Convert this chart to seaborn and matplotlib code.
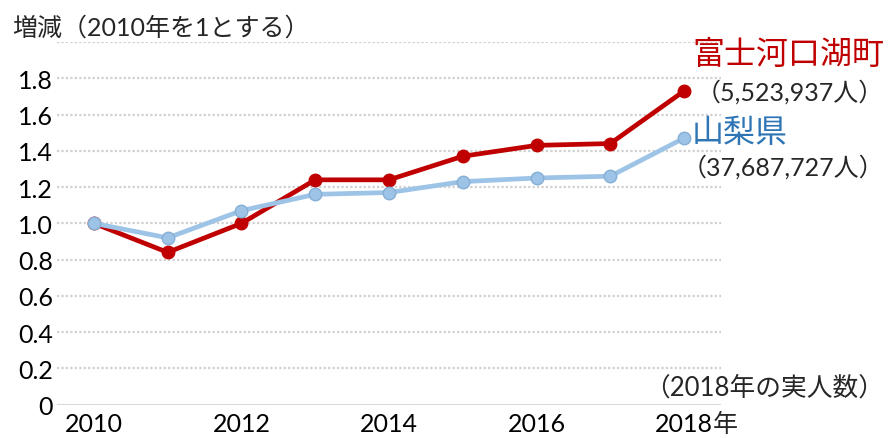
import numpy as np
import pandas as pd
import matplotlib
matplotlib.use("Agg")
import matplotlib.pyplot as plt
import matplotlib.transforms as mtransforms
import seaborn as sns

years = [2010, 2011, 2012, 2013, 2014, 2015, 2016, 2017, 2018]
fujikawaguchiko = [1.00, 0.84, 1.00, 1.24, 1.24, 1.37, 1.43, 1.44, 1.73]
yamanashi = [1.00, 0.92, 1.07, 1.16, 1.17, 1.23, 1.25, 1.26, 1.47]
series_names = ["富士河口湖町", "山梨県"]
series_counts = ["（5,523,937人）", "（37,687,727人）"]
y_ticks = [0, 0.2, 0.4, 0.6, 0.8, 1.0, 1.2, 1.4, 1.6, 1.8]
y_tick_labels = ["0", "0.2", "0.4", "0.6", "0.8", "1.0", "1.2", "1.4", "1.6", "1.8"]
x_ticks = [2010, 2012, 2014, 2016, 2018]
x_tick_labels = ["2010", "2012", "2014", "2016", "2018"]

sns.set_theme(style="white")
plt.rcParams["font.family"] = ["Lato", "Noto Sans CJK JP", "DejaVu Sans"]

df = pd.DataFrame({
    "year": years * 2,
    "value": fujikawaguchiko + yamanashi,
    "series": [series_names[0]] * len(years) + [series_names[1]] * len(years),
})

RED = "#C00000"
LBLUE = "#9DC3E6"
BLUE_TXT = "#2E75B6"

fig = plt.figure(figsize=(8.92, 4.39), dpi=100)
ax = fig.add_axes([57 / 892, 1 - 405.7 / 439, (721 - 57) / 892, (405.7 - 43.0) / 439])

# gridlines
for yv in np.arange(0.2, 2.01, 0.2):
    ax.axhline(yv, color="#D0D0D0", lw=1.6, ls=(0, (1, 1)), zorder=0)
ax.axhline(0, color="#D9D9D9", lw=1.5, zorder=1)

sns.lineplot(data=df[df.series == series_names[0]], x="year", y="value", ax=ax,
             color=RED, lw=3.4, marker="o", markersize=9, markeredgecolor=RED,
             markeredgewidth=1, zorder=3, legend=False)
sns.lineplot(data=df[df.series == series_names[1]], x="year", y="value", ax=ax,
             color=LBLUE, lw=3.4, marker="o", markersize=9, markeredgecolor="#86AFD6",
             markeredgewidth=1, zorder=4, legend=False)

ax.set_xlim(2009.5, 2018.5)
ax.set_ylim(0, 2.0)
ax.set_yticks(y_ticks)
ax.set_yticklabels(y_tick_labels)
ax.set_xticks(x_ticks)
ax.set_xticklabels(x_tick_labels)
ax.tick_params(axis="both", length=0, labelsize=18, colors="black")
ax.tick_params(axis="y", pad=3)
ax.tick_params(axis="x", pad=5)
ax.set_xlabel("")
ax.set_ylabel("")
for s in ax.spines.values():
    s.set_visible(False)

# "年" after the 2018 tick label
trans = mtransforms.blended_transform_factory(ax.transData, ax.transAxes)
ax.annotate("年", xy=(2018, 0), xycoords=trans, xytext=(20.5, -5), textcoords="offset points",
            ha="left", va="top", fontsize=18, annotation_clip=False)

fig.text(12 / 892, 1 - 28 / 439, "増減（2010年を1とする）", ha="left", va="center", fontsize=18)
fig.text(692 / 892, 1 - 55 / 439, series_names[0], ha="left", va="center", fontsize=23, color=RED)
fig.text(884 / 892, 1 - 92 / 439, series_counts[0], ha="right", va="center", fontsize=18)
fig.text(692 / 892, 1 - 133 / 439, series_names[1], ha="left", va="center", fontsize=23, color=BLUE_TXT)
fig.text(884 / 892, 1 - 167 / 439, series_counts[1], ha="right", va="center", fontsize=18)
fig.text(884 / 892, 1 - 388 / 439, "（2018年の実人数）", ha="right", va="center", fontsize=18.5)

fig.savefig("out.png", dpi=100, facecolor="white")
